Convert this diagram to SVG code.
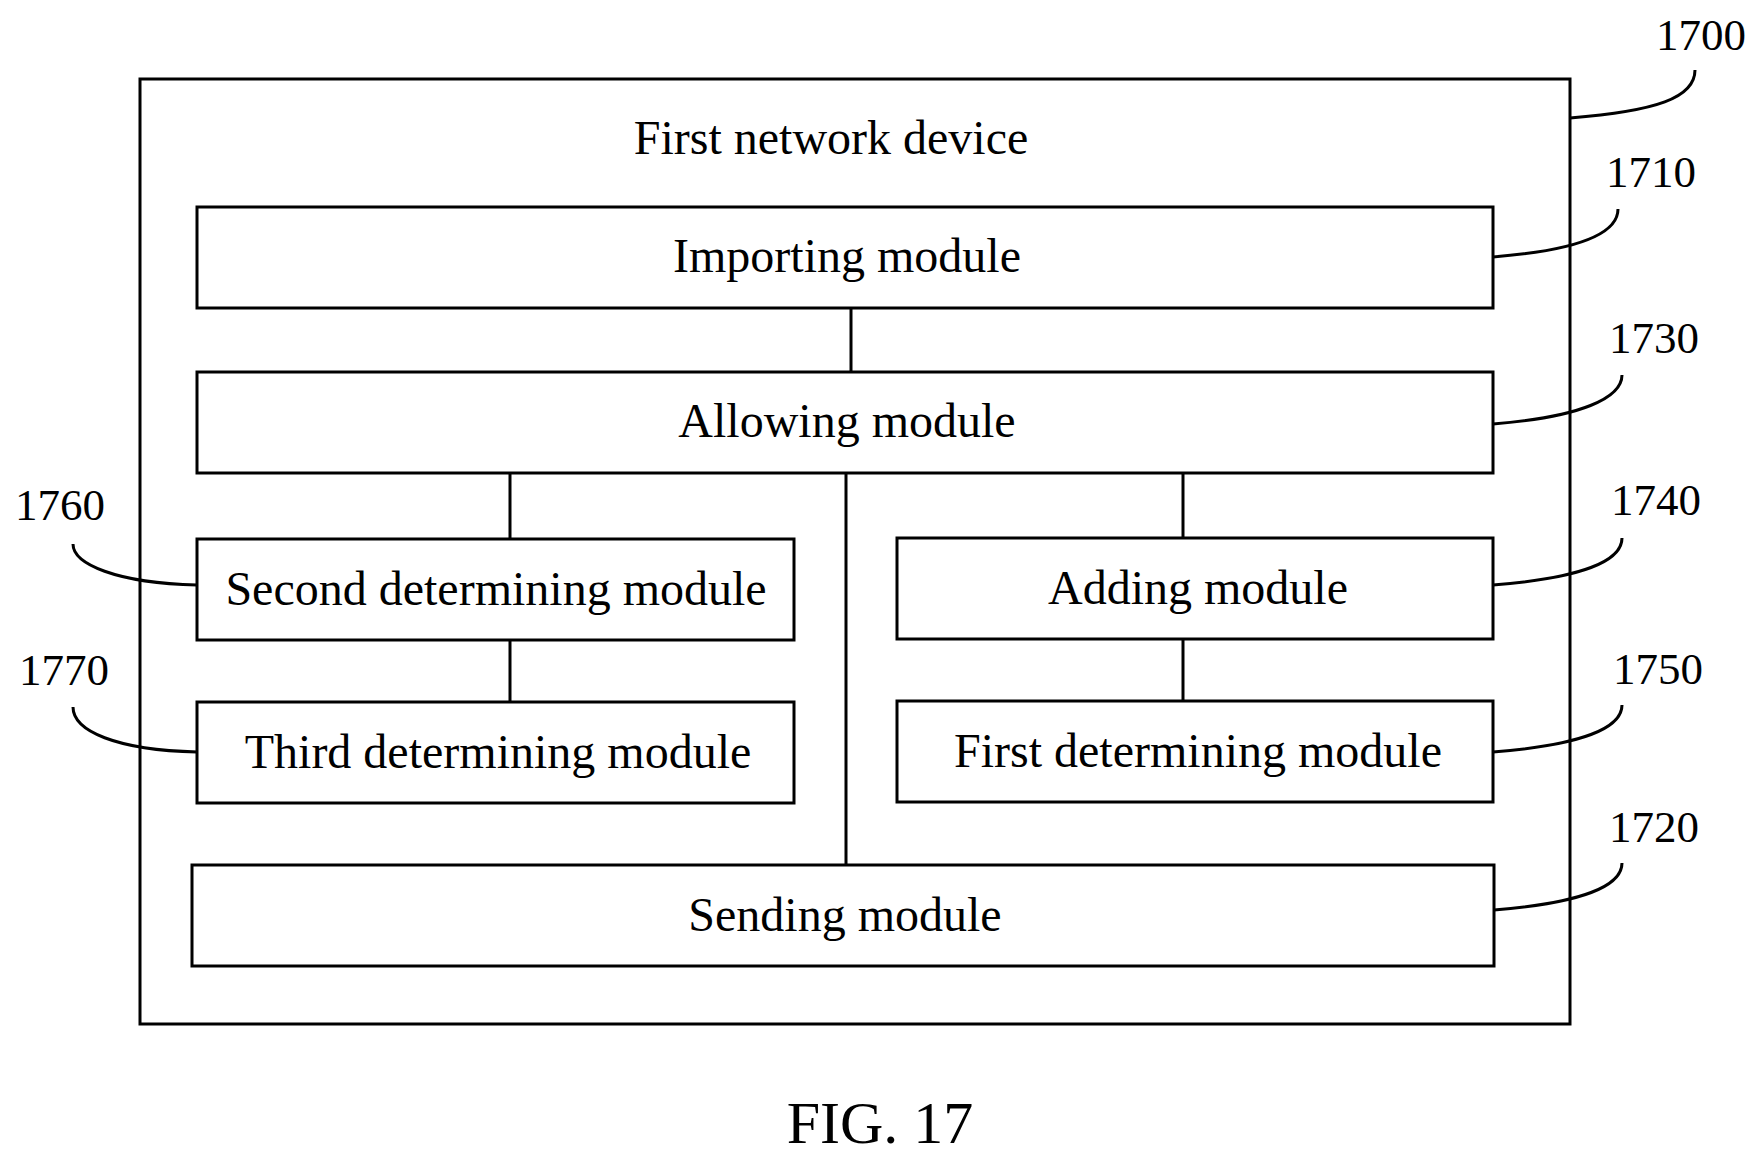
<svg xmlns="http://www.w3.org/2000/svg" width="1762" height="1166" viewBox="0 0 1762 1166">
<style>
rect{fill:#fff;stroke:#000;stroke-width:3}
.c line,.c path{stroke:#000;stroke-width:3;fill:none}
text{font-family:"Liberation Serif","Times New Roman",serif;font-size:48px;text-anchor:middle;fill:#000}
.n{font-size:45px}
</style>
<rect width="1762" height="1166" style="stroke:none"/>
<g transform="translate(-4,-2)">
<g id="outer"><rect x="144" y="81" width="1430" height="945"/><text x="835" y="156">First network device</text></g>
<g id="n1710"><rect x="201" y="209" width="1296" height="101"/><text x="851" y="274">Importing module</text></g>
<g id="n1730"><rect x="201" y="374" width="1296" height="101"/><text x="851" y="439">Allowing module</text></g>
<g id="n1760"><rect x="201" y="541" width="597" height="101"/><text x="500" y="607">Second determining module</text></g>
<g id="n1740"><rect x="901" y="540" width="596" height="101"/><text x="1202" y="606">Adding module</text></g>
<g id="n1770"><rect x="201" y="704" width="597" height="101"/><text x="502" y="770">Third determining module</text></g>
<g id="n1750"><rect x="901" y="703" width="596" height="101"/><text x="1202" y="769">First determining module</text></g>
<g id="n1720"><rect x="196" y="867" width="1302" height="101"/><text x="849" y="933">Sending module</text></g>
<g class="c" id="connectors">
<line x1="855" y1="310" x2="855" y2="374"/>
<line x1="514" y1="475" x2="514" y2="541"/>
<line x1="850" y1="475" x2="850" y2="867"/>
<line x1="1187" y1="475" x2="1187" y2="540"/>
<line x1="514" y1="642" x2="514" y2="704"/>
<line x1="1187" y1="641" x2="1187" y2="703"/>
<path d="M1574,120 C1660,113 1699,100 1699,72"/>
<path d="M1497,259 C1585,252 1622,235 1622,211"/>
<path d="M1497,426 C1585,419 1626,400 1626,377"/>
<path d="M1497,587 C1586,580 1626,563 1626,540"/>
<path d="M1497,754 C1586,747 1626,730 1626,707"/>
<path d="M1498,912 C1586,905 1626,888 1626,865"/>
<path d="M201,587 C120,585 77,566 77,546"/>
<path d="M201,754 C120,752 77,733 77,709"/>
</g>
<g id="labels">
<text class="n" x="1705" y="52">1700</text>
<text class="n" x="1655" y="189">1710</text>
<text class="n" x="1658" y="355">1730</text>
<text class="n" x="1660" y="517">1740</text>
<text class="n" x="1662" y="686">1750</text>
<text class="n" x="1658" y="844">1720</text>
<text class="n" x="64" y="522">1760</text>
<text class="n" x="68" y="687">1770</text>
<text x="884" y="1145" style="font-size:60px">FIG. 17</text>
</g>
</g>
</svg>
